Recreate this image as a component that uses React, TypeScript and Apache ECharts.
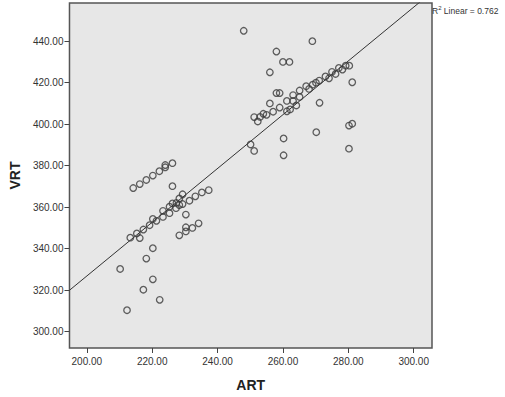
import React, { useEffect, useRef } from "react";
import * as echarts from "echarts";

const ART: number[] = [
  248, 269, 258, 260, 262, 256, 258, 259, 256, 259, 257, 255, 254, 253, 252.3, 251.2,
  261.2, 263.1, 265.1, 263.1, 265.1, 264.1, 261.2, 262.2, 267.1, 268, 269.1, 270.1, 271.1,
  273, 274.1, 275, 276.1, 277.1, 278.2, 279.2, 280.3, 281.2, 271.2, 280.2, 281.2, 250.1,
  251.2, 260.2, 260.2, 270.2, 280.2,
  214.2, 216.2, 218.2, 220.2, 222.2, 224, 224, 226.2, 226.2, 237.3, 235.2, 233.2, 231.4,
  229.3, 228.3, 227.4, 226.2, 229.3, 228.3, 225.3, 227.3, 223.3, 225.3, 223.3, 220.2,
  221.3, 219.2, 217.3, 215.3, 213.3, 216.2, 230.3, 230.3, 230.3, 232.3, 234.2, 228.3,
  220.2, 218.2, 210.2, 220.2, 217.3, 222.3, 212.3,
];
const VRT: number[] = [
  445, 440, 435, 430, 430, 425, 415, 415, 410, 408, 406, 404.5, 405, 403.5, 401.3, 403.4,
  411.2, 414, 416.2, 411.2, 413.1, 409, 406.2, 407.1, 418.3, 417, 419, 420, 421,
  423, 422.1, 425.2, 424.2, 427.1, 426.3, 428.2, 428.2, 420.2, 410.3, 399.3, 400.2, 390.2,
  387.1, 393.1, 385, 396.1, 388.2,
  369.2, 371.1, 373.1, 375.2, 377.3, 379.2, 380.3, 381.2, 370.1, 368.2, 367.1, 365.2, 363.1,
  366.2, 364.2, 362, 361.8, 361.5, 361, 360.2, 359.5, 358.2, 357.1, 355.3, 354.3,
  353.4, 351.3, 349.2, 347.3, 345.3, 345.1, 356.4, 350.3, 348.3, 350, 352.2, 346.4,
  340.2, 335.2, 330.2, 325.2, 320.2, 315.3, 310.3,
];
const X_TICKS: number[] = [200, 220, 240, 260, 280, 300];
const Y_TICKS: number[] = [300, 320, 340, 360, 380, 400, 420, 440];
const X_RANGE: number[] = [194.7, 305.6];
const Y_RANGE: number[] = [292.1, 458.4];
const FIT_INTERCEPT = 67.6;
const FIT_SLOPE = 1.296;
const R2_TEXT = "0.762";

export default function App() {
  const ref = useRef<HTMLDivElement>(null);
  useEffect(() => {
    if (!ref.current) return;
    const chart = echarts.init(ref.current, undefined, { renderer: "svg" });
    const points = ART.map((a, i) => [a, VRT[i]]);
    const fit = X_RANGE.map((x) => [x, FIT_INTERCEPT + FIT_SLOPE * x]);
    const font = "'Liberation Sans', Arial, sans-serif";
    chart.setOption({
      animation: false,
      backgroundColor: "#ffffff",
      grid: {
        left: 55,
        top: 3,
        right: 73,
        bottom: 38,
        show: true,
        backgroundColor: "#e7e7e7",
        borderColor: "#555555",
        borderWidth: 1.5,
      },
      xAxis: {
        type: "value",
        min: X_RANGE[0],
        max: X_RANGE[1],
        name: "ART",
        nameLocation: "middle",
        nameGap: 30,
        nameTextStyle: { fontFamily: font, fontWeight: "bold", fontSize: 14, color: "#222" },
        axisLine: { show: false },
        splitLine: { show: false },
        axisTick: { show: true, length: 5, customValues: X_TICKS, lineStyle: { color: "#444" } },
        axisLabel: {
          customValues: X_TICKS,
          margin: 8,
          fontFamily: font,
          fontSize: 10,
          color: "#333",
          formatter: (v: number) => v.toFixed(2),
        },
      },
      yAxis: {
        type: "value",
        min: Y_RANGE[0],
        max: Y_RANGE[1],
        name: "VRT",
        nameLocation: "middle",
        nameGap: 46,
        nameRotate: 90,
        nameTextStyle: { fontFamily: font, fontWeight: "bold", fontSize: 14, color: "#222" },
        axisLine: { show: false },
        splitLine: { show: false },
        axisTick: { show: true, length: 5, customValues: Y_TICKS, lineStyle: { color: "#444" } },
        axisLabel: {
          customValues: Y_TICKS,
          margin: 6,
          fontFamily: font,
          fontSize: 10,
          color: "#333",
          formatter: (v: number) => v.toFixed(2),
        },
      },
      graphic: [
        {
          type: "text",
          left: 432,
          top: 5,
          style: {
            text: "{a|R}{s|2}{a| Linear = " + R2_TEXT + "}",
            rich: {
              a: { fontFamily: font, fontSize: 8.5, fill: "#333", verticalAlign: "bottom" },
              s: { fontFamily: font, fontSize: 6, fill: "#333", verticalAlign: "top", padding: [0, 0, 4, 0] },
            },
          },
        },
      ],
      series: [
        {
          type: "line",
          data: fit,
          showSymbol: false,
          symbol: "none",
          clip: true,
          lineStyle: { color: "#333", width: 1 },
          z: 2,
        },
        {
          type: "scatter",
          data: points,
          symbol: "circle",
          symbolSize: 6.5,
          itemStyle: { color: "rgba(0,0,0,0)", borderColor: "#3a3a3a", borderWidth: 1.3 },
          z: 3,
        },
      ],
    });
    return () => chart.dispose();
  }, []);
  return (
    <div
      ref={ref}
      style={{ position: "absolute", left: 0, top: 0, width: 505, height: 397 }}
    />
  );
}
